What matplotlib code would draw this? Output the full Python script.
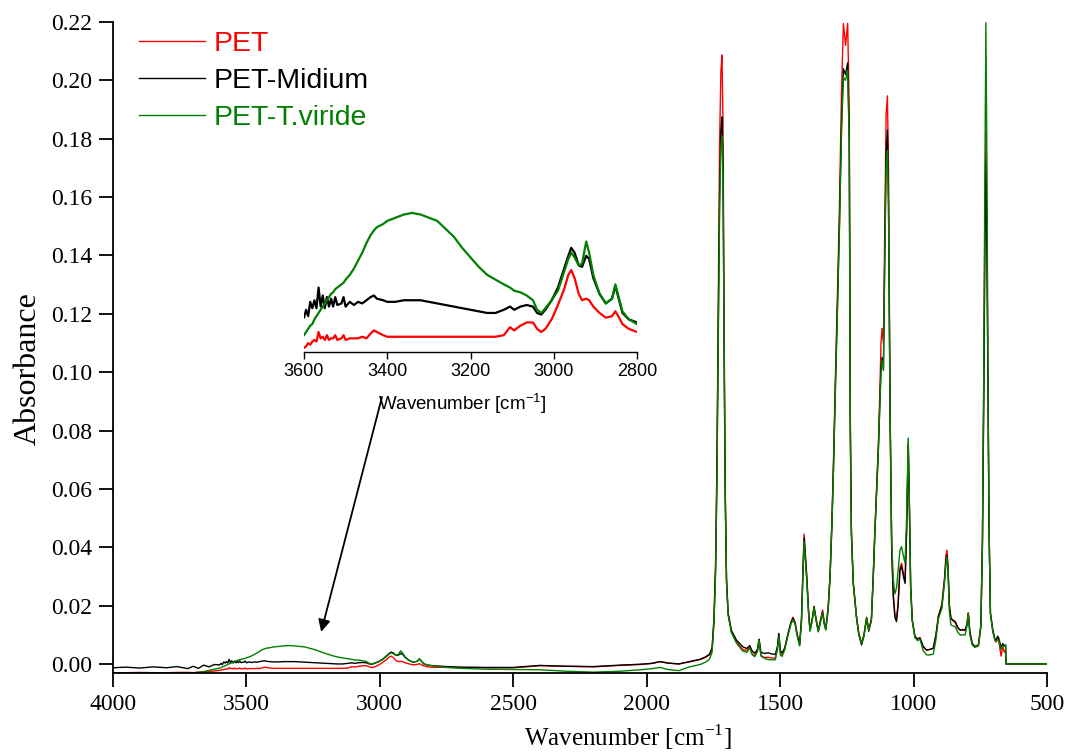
import matplotlib
matplotlib.use("Agg")
import matplotlib.pyplot as plt

# ---------------- data ----------------
wavenumber = [
    4000, 3950, 3900, 3850, 3800, 3760, 3720, 3700, 3680, 3660, 3640, 3620, 3600,
    3595, 3590, 3585, 3580, 3575, 3570, 3565, 3560, 3555, 3550, 3545, 3540, 3535,
    3530, 3525, 3520, 3510, 3505, 3500, 3490, 3480, 3470, 3460, 3450, 3440, 3432,
    3425, 3410, 3400, 3380, 3360, 3340, 3320, 3300, 3280, 3260, 3240, 3220, 3200,
    3180, 3160, 3140, 3120, 3105, 3095, 3080, 3065, 3050, 3040, 3030, 3020, 3005,
    2990, 2975, 2965, 2958, 2950, 2940, 2932, 2922, 2915, 2905, 2890, 2875, 2860,
    2852, 2845, 2835, 2820, 2800,
    2750, 2700, 2600, 2500, 2400, 2300, 2200, 2100, 2025, 1980, 1950, 1920, 1880,
    1840, 1800, 1780, 1765, 1755, 1748, 1742, 1737, 1732, 1727, 1722, 1718, 1714,
    1710, 1706, 1701, 1695, 1683, 1664, 1640, 1625, 1614, 1605, 1595, 1585, 1579,
    1572, 1560, 1545, 1530, 1518, 1510, 1505, 1499, 1493, 1483, 1470, 1460, 1452,
    1444, 1436, 1427, 1420, 1414, 1410, 1405, 1400, 1393, 1388, 1380, 1373, 1365,
    1357, 1348, 1341, 1335, 1329, 1320, 1313, 1306, 1300, 1293, 1286, 1278, 1270,
    1263, 1255, 1247, 1241, 1237, 1233, 1226, 1214, 1205, 1195, 1186, 1176, 1168,
    1158, 1151, 1145, 1138, 1132, 1126, 1122, 1118, 1113, 1108, 1103, 1098, 1094,
    1088, 1082, 1076, 1070, 1064, 1058, 1051, 1045, 1038, 1032, 1026, 1020, 1015,
    1011, 1005, 995, 985, 976, 964, 951, 938, 926, 916, 907, 894, 884, 879, 875,
    871, 866, 860, 852, 844, 834, 825, 815, 807, 800, 795, 789, 780, 770, 757,
    748, 742, 737, 733, 729, 725, 721, 717, 712, 703, 695, 690, 685, 681, 677,
    672, 666, 660, 655, 654, 600, 500,
]

pet = [
    -0.0030, -0.0030, -0.0029, -0.0030, -0.0030, -0.0029, -0.0029, -0.0030, -0.0028, -0.0027, -0.0026, -0.0024, -0.0022,
    -0.0021, -0.0019, -0.0020, -0.0018, -0.0017, -0.0018, -0.0012, -0.0016, -0.0015, -0.0017, -0.0014, -0.0017, -0.0016,
    -0.0016, -0.0014, -0.0017, -0.0016, -0.0014, -0.0017, -0.0016, -0.0016, -0.0016, -0.0015, -0.0016, -0.0013, -0.0011,
    -0.0012, -0.0014, -0.0015, -0.0015, -0.0015, -0.0015, -0.0015, -0.0015, -0.0015, -0.0015, -0.0015, -0.0015, -0.0015,
    -0.0015, -0.0015, -0.0015, -0.0014, -0.0009, -0.0011, -0.0008, -0.0006, -0.0006, -0.0010, -0.0012, -0.0010, -0.0004,
    0.0005, 0.0015, 0.0024, 0.0027, 0.0022, 0.0012, 0.0008, 0.0009, 0.0008, 0.0004, 0.0000, -0.0003, -0.0002,
    0.0001, -0.0002, -0.0007, -0.0010, -0.0012,
    -0.0011, -0.0012, -0.0013, -0.0013, -0.0006, -0.0008, -0.0010, -0.0005, -0.0002, 0.0002, 0.0008, 0.0003, 0.0000,
    0.0007, 0.0015, 0.0022, 0.0031, 0.0052, 0.0155, 0.0340, 0.0680, 0.1250, 0.1780, 0.2030, 0.2087, 0.1850,
    0.1150, 0.0620, 0.0290, 0.0172, 0.0112, 0.0076, 0.0050, 0.0046, 0.0058, 0.0036, 0.0028, 0.0045, 0.0084,
    0.0030, 0.0022, 0.0023, 0.0020, 0.0020, 0.0055, 0.0100, 0.0035, 0.0030, 0.0052, 0.0105, 0.0142, 0.0160,
    0.0142, 0.0100, 0.0066, 0.0155, 0.0340, 0.0445, 0.0370, 0.0300, 0.0175, 0.0118, 0.0152, 0.0198, 0.0152,
    0.0115, 0.0155, 0.0185, 0.0145, 0.0120, 0.0195, 0.0305, 0.0490, 0.0700, 0.0980, 0.1240, 0.1560, 0.1960,
    0.2195, 0.2120, 0.2195, 0.1900, 0.0850, 0.0460, 0.0280, 0.0165, 0.0105, 0.0072, 0.0100, 0.0160, 0.0118,
    0.0155, 0.0310, 0.0460, 0.0615, 0.0750, 0.0950, 0.1100, 0.1150, 0.1100, 0.1500, 0.1880, 0.1947, 0.1700,
    0.0870, 0.0400, 0.0240, 0.0170, 0.0155, 0.0210, 0.0330, 0.0345, 0.0310, 0.0285, 0.0460, 0.0760, 0.0510,
    0.0270, 0.0152, 0.0094, 0.0086, 0.0090, 0.0058, 0.0046, 0.0050, 0.0054, 0.0100, 0.0165, 0.0205, 0.0295, 0.0370, 0.0390,
    0.0340, 0.0205, 0.0155, 0.0148, 0.0142, 0.0122, 0.0115, 0.0117, 0.0114, 0.0135, 0.0175, 0.0108, 0.0068, 0.0058, 0.0062,
    0.0130, 0.0420, 0.0950, 0.1500, 0.1826, 0.1500, 0.0920, 0.0460, 0.0175, 0.0112, 0.0080, 0.0075, 0.0090, 0.0082, 0.0055,
    0.0027, 0.0060, 0.0040, 0.0050, 0.0000, 0.0000, 0.0000,
]

pet_midium = [
    -0.0013, -0.0011, -0.0014, -0.0010, -0.0013, -0.0009, -0.0016, -0.0008, -0.0015, -0.0004, -0.0010, -0.0002, -0.0003,
    0.0002, -0.0002, 0.0007, 0.0003, 0.0008, 0.0003, 0.0016, 0.0004, 0.0011, 0.0003, 0.0010, 0.0004, 0.0009,
    0.0004, 0.0010, 0.0005, 0.0006, 0.0010, 0.0004, 0.0007, 0.0005, 0.0007, 0.0006, 0.0008, 0.0010, 0.0011,
    0.0009, 0.0008, 0.0007, 0.0007, 0.0008, 0.0008, 0.0008, 0.0007, 0.0006, 0.0005, 0.0004, 0.0003, 0.0002,
    0.0001, 0.0000, 0.0000, 0.0002, 0.0004, 0.0002, 0.0004, 0.0005, 0.0004, 0.0000, -0.0001, 0.0002, 0.0008,
    0.0016, 0.0028, 0.0036, 0.0041, 0.0038, 0.0030, 0.0029, 0.0036, 0.0034, 0.0022, 0.0012, 0.0006, 0.0009,
    0.0017, 0.0010, 0.0000, -0.0004, -0.0006,
    -0.0009, -0.0011, -0.0012, -0.0012, -0.0005, -0.0008, -0.0009, -0.0004, -0.0001, 0.0002, 0.0008, 0.0003, 0.0000,
    0.0008, 0.0016, 0.0024, 0.0033, 0.0055, 0.0150, 0.0330, 0.0640, 0.1150, 0.1600, 0.1830, 0.1875, 0.1700,
    0.1100, 0.0600, 0.0290, 0.0175, 0.0116, 0.0082, 0.0059, 0.0053, 0.0063, 0.0045, 0.0037, 0.0050, 0.0085,
    0.0040, 0.0036, 0.0038, 0.0034, 0.0033, 0.0060, 0.0105, 0.0045, 0.0038, 0.0054, 0.0105, 0.0140, 0.0157,
    0.0140, 0.0100, 0.0066, 0.0150, 0.0330, 0.0432, 0.0360, 0.0290, 0.0170, 0.0115, 0.0150, 0.0196, 0.0150,
    0.0112, 0.0150, 0.0178, 0.0140, 0.0118, 0.0190, 0.0300, 0.0480, 0.0680, 0.0950, 0.1200, 0.1500, 0.1850,
    0.2040, 0.2020, 0.2060, 0.1800, 0.0800, 0.0450, 0.0277, 0.0160, 0.0100, 0.0065, 0.0095, 0.0157, 0.0112,
    0.0150, 0.0300, 0.0450, 0.0600, 0.0733, 0.0900, 0.1017, 0.1050, 0.1007, 0.1400, 0.1750, 0.1830, 0.1600,
    0.0847, 0.0390, 0.0230, 0.0160, 0.0145, 0.0200, 0.0320, 0.0336, 0.0300, 0.0276, 0.0450, 0.0750, 0.0500,
    0.0265, 0.0150, 0.0094, 0.0085, 0.0089, 0.0060, 0.0048, 0.0050, 0.0054, 0.0100, 0.0163, 0.0198, 0.0288, 0.0350, 0.0373,
    0.0330, 0.0200, 0.0157, 0.0150, 0.0145, 0.0125, 0.0116, 0.0118, 0.0116, 0.0135, 0.0174, 0.0110, 0.0070, 0.0060, 0.0065,
    0.0128, 0.0400, 0.0905, 0.1400, 0.1720, 0.1400, 0.0900, 0.0450, 0.0174, 0.0116, 0.0085, 0.0082, 0.0095, 0.0089, 0.0075,
    0.0055, 0.0070, 0.0062, 0.0065, 0.0000, 0.0000, 0.0000,
]

pet_t_viride = [
    -0.0031, -0.0031, -0.0030, -0.0031, -0.0030, -0.0030, -0.0030, -0.0030, -0.0029, -0.0026, -0.0022, -0.0018, -0.0014,
    -0.0012, -0.0010, -0.0008, -0.0007, -0.0004, -0.0002, 0.0000, 0.0002, 0.0004, 0.0006, 0.0008, 0.0010, 0.0012,
    0.0013, 0.0015, 0.0016, 0.0018, 0.0019, 0.0021, 0.0024, 0.0028, 0.0033, 0.0038, 0.0044, 0.0049, 0.0052,
    0.0054, 0.0056, 0.0058, 0.0060, 0.0062, 0.0063, 0.0062, 0.0060, 0.0058, 0.0053, 0.0048, 0.0041, 0.0035,
    0.0029, 0.0024, 0.0021, 0.0018, 0.0016, 0.0014, 0.0013, 0.0011, 0.0008, 0.0002, 0.0000, 0.0003, 0.0008,
    0.0014, 0.0026, 0.0034, 0.0038, 0.0035, 0.0030, 0.0031, 0.0045, 0.0038, 0.0024, 0.0012, 0.0006, 0.0009,
    0.0018, 0.0011, 0.0001, -0.0004, -0.0007,
    -0.0012, -0.0015, -0.0018, -0.0019, -0.0020, -0.0025, -0.0028, -0.0025, -0.0020, -0.0016, -0.0012, -0.0019, -0.0023,
    -0.0010, -0.0002, 0.0006, 0.0016, 0.0040, 0.0140, 0.0310, 0.0620, 0.1100, 0.1550, 0.1780, 0.1810, 0.1660,
    0.1080, 0.0580, 0.0280, 0.0168, 0.0108, 0.0072, 0.0044, 0.0040, 0.0054, 0.0032, 0.0025, 0.0042, 0.0082,
    0.0027, 0.0020, 0.0015, 0.0014, 0.0015, 0.0050, 0.0094, 0.0030, 0.0026, 0.0048, 0.0100, 0.0135, 0.0152,
    0.0136, 0.0095, 0.0062, 0.0145, 0.0320, 0.0420, 0.0350, 0.0280, 0.0165, 0.0112, 0.0148, 0.0194, 0.0148,
    0.0110, 0.0148, 0.0176, 0.0138, 0.0116, 0.0188, 0.0298, 0.0475, 0.0670, 0.0940, 0.1180, 0.1480, 0.1820,
    0.2010, 0.2000, 0.2036, 0.1780, 0.0780, 0.0445, 0.0275, 0.0160, 0.0100, 0.0071, 0.0098, 0.0157, 0.0116,
    0.0152, 0.0300, 0.0450, 0.0600, 0.0730, 0.0900, 0.1000, 0.1040, 0.1010, 0.1380, 0.1700, 0.1760, 0.1560,
    0.0860, 0.0420, 0.0290, 0.0240, 0.0260, 0.0320, 0.0390, 0.0402, 0.0370, 0.0346, 0.0500, 0.0774, 0.0520,
    0.0265, 0.0148, 0.0090, 0.0080, 0.0085, 0.0045, 0.0031, 0.0031, 0.0034, 0.0085, 0.0155, 0.0190, 0.0280, 0.0340, 0.0366,
    0.0320, 0.0180, 0.0134, 0.0130, 0.0128, 0.0108, 0.0099, 0.0100, 0.0099, 0.0130, 0.0172, 0.0100, 0.0065, 0.0057, 0.0063,
    0.0128, 0.0420, 0.1000, 0.1650, 0.2198, 0.1700, 0.0950, 0.0460, 0.0172, 0.0110, 0.0082, 0.0078, 0.0085, 0.0080, 0.0065,
    0.0050, 0.0060, 0.0060, 0.0065, 0.0000, 0.0000, 0.0000,
]

series_names = ["PET", "PET-Midium", "PET-T.viride"]
series_colors = ["#ff0000", "#000000", "#008000"]
x_ticks = [4000, 3500, 3000, 2500, 2000, 1500, 1000, 500]
y_ticks = [0.00, 0.02, 0.04, 0.06, 0.08, 0.10, 0.12, 0.14, 0.16, 0.18, 0.20, 0.22]
inset_ticks = [3600, 3400, 3200, 3000, 2800]

SERIF = ["Liberation Serif", "DejaVu Serif"]
SANS = ["Liberation Sans", "DejaVu Sans"]

W, H = 1071, 753
fig = plt.figure(figsize=(W / 100, H / 100), dpi=100)


def px_box(x0, y0, x1, y1):
    return [x0 / W, 1 - y1 / H, (x1 - x0) / W, (y1 - y0) / H]


ax = fig.add_axes(px_box(113, 22, 1047, 673))
all_series = [pet, pet_midium, pet_t_viride]
for vals, name, col in zip(all_series, series_names, series_colors):
    ax.plot(wavenumber, vals, color=col, lw=1.0, label=name)

ax.set_xlim(4000, 500)
ax.set_ylim(-0.0031, 0.22)
ax.set_xticks(x_ticks)
ax.set_yticks(y_ticks)
ax.set_yticklabels([f"{v:.2f}" for v in y_ticks])
for s in ["top", "right"]:
    ax.spines[s].set_visible(False)
for s in ["left", "bottom"]:
    ax.spines[s].set_linewidth(1.3)
ax.tick_params(direction="out", length=10, width=1.3, labelsize=17, pad=5)
for lab in ax.get_xticklabels() + ax.get_yticklabels():
    lab.set_family(SERIF)
ax.set_xlabel(r"Wavenumber [cm$^{\mathregular{-1}}$]", family=SERIF, fontsize=18)
ax.xaxis.set_label_coords((628 - 113) / 934, -(737 - 673) / 651)
ax.xaxis.label.set_va("center")
ax.set_ylabel("Absorbance", family=SERIF, fontsize=23)
ax.yaxis.set_label_coords((28 - 113) / 934, (673 - 369) / 651)
ax.yaxis.label.set_va("center")

leg = ax.legend(loc="upper left", bbox_to_anchor=(0.01, 1.012), frameon=False,
                prop={"family": SANS, "size": 20.5}, handlelength=2.3,
                handletextpad=0.3, labelspacing=0.38, borderaxespad=0.2)
for txt, col in zip(leg.get_texts(), series_colors):
    txt.set_color(col)

# ---------------- inset ----------------
ins = fig.add_axes(px_box(304, 205, 637, 352))
for vals, col in zip(all_series, series_colors):
    ins.plot(wavenumber, vals, color=col, lw=1.6)
ins.set_xlim(3600, 2800)
ins.set_ylim(-0.00246, 0.0068)
ins.set_xticks(inset_ticks)
ins.set_yticks([])
for s in ["top", "right", "left"]:
    ins.spines[s].set_visible(False)
ins.spines["bottom"].set_linewidth(1.0)
ins.patch.set_alpha(0)
ins.tick_params(axis="x", direction="out", length=5, width=1.0, labelsize=13, pad=3)
for lab in ins.get_xticklabels():
    lab.set_family(SANS)
ins.set_xlabel(r"Wavenumber [cm$^{\mathregular{-1}}$]", family=SANS, fontsize=13.5)
ins.xaxis.set_label_coords((462 - 304) / (637 - 304), -(404 - 352) / (352 - 205))
ins.xaxis.label.set_va("center")

# arrow from inset label to the region in the main plot
ax.annotate("", xy=(3220, 0.0110), xycoords="data",
            xytext=(382 / W, 1 - 397 / H), textcoords="figure fraction",
            arrowprops=dict(arrowstyle="-|>", color="black", lw=1.3,
                            mutation_scale=18, shrinkA=0, shrinkB=0))

fig.savefig("out.png", dpi=100)
